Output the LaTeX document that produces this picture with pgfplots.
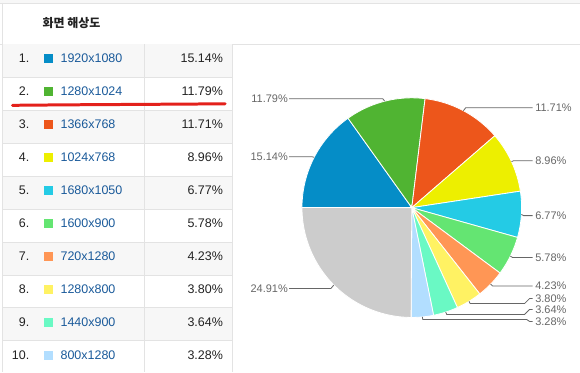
\documentclass[border=0pt]{standalone}
\usepackage{fontspec}
\setmainfont{Liberation Sans}
\newfontfamily\kr{Noto Sans CJK KR}
\usepackage{pgfplots}
\usepackage{pgfplotstable}
\pgfplotsset{compat=1.18}

\definecolor{c0}{HTML}{058DC7}
\definecolor{c1}{HTML}{50B432}
\definecolor{c2}{HTML}{ED561B}
\definecolor{c3}{HTML}{EDEF00}
\definecolor{c4}{HTML}{24CBE5}
\definecolor{c5}{HTML}{64E572}
\definecolor{c6}{HTML}{FF9655}
\definecolor{c7}{HTML}{FFF263}
\definecolor{c8}{HTML}{6AF9C4}
\definecolor{c9}{HTML}{B2DEFF}
\definecolor{c10}{HTML}{CCCCCC}
\definecolor{linkblue}{HTML}{1A5A9A}
\definecolor{rowgray}{HTML}{F7F7F7}
\definecolor{gridgray}{HTML}{E3E3E3}
\definecolor{labgray}{HTML}{666666}
\definecolor{txt}{HTML}{222222}
\definecolor{redmark}{HTML}{E3211B}

% screen resolutions and their share of sessions (%)
\pgfplotstableread{
idx label pct
0 1920x1080 15.14
1 1280x1024 11.79
2 1366x768 11.71
3 1024x768 8.96
4 1680x1050 6.77
5 1600x900 5.78
6 720x1280 4.23
7 1280x800 3.80
8 1440x900 3.64
9 800x1280 3.28
10 other 24.91
}\resdata

\newcommand\tabrow[4]{% index, label, pct, colour
  \addplot[#4, only marks, mark=square*, mark size=4pt, mark options={draw=#4, fill=#4, line width=0pt}]
    coordinates {(48,{44+33*(#1-1)+15})};
  \node[anchor=base east, txt, font=\fontsize{12.5}{14}\selectfont, inner sep=0pt] at (axis cs:29,{44+33*(#1-1)+19}) {#1.};
  \node[anchor=base west, linkblue, font=\fontsize{12.5}{14}\selectfont, inner sep=0pt] at (axis cs:60,{44+33*(#1-1)+19}) {#2};
  \node[anchor=base east, txt, font=\fontsize{12.5}{14}\selectfont, inner sep=0pt] at (axis cs:223,{44+33*(#1-1)+19}) {#3\%};
}

\begin{document}%
\begin{tikzpicture}
% cumulative angles of the slices, clockwise from 9 o'clock
\def\acc{180}
\pgfplotsforeachungrouped \i in {0,...,10}{%
  \pgfplotstablegetelem{\i}{pct}\of\resdata%
  \pgfmathsetmacro\endang{\acc-3.6*\pgfplotsretval}%
  \expandafter\xdef\csname sa\i\endcsname{\acc}%
  \expandafter\xdef\csname ea\i\endcsname{\endang}%
  \xdef\acc{\endang}%
}
\begin{axis}[
  x=1pt, y=1pt, y dir=reverse,
  xmin=0, xmax=580, ymin=0, ymax=373,
  enlargelimits=false, hide axis, clip=false,
]
% page frame
\addplot[fill=rowgray, draw=none] coordinates {(0,0) (580,0) (580,3) (0,3)} -- cycle;
\addplot[draw=gridgray, line width=1pt] coordinates {(0,3.5) (580,3.5)};
\addplot[draw=gridgray, line width=1pt] coordinates {(0,44.5) (580,44.5)};
% striped rows
\pgfplotsinvokeforeach{0,2,4,6,8}{
  \addplot[fill=rowgray, draw=none] coordinates {(3,{44+33*#1}) (232,{44+33*#1}) (232,{77+33*#1}) (3,{77+33*#1})} -- cycle;
}
\pgfplotsinvokeforeach{1,...,9}{
  \addplot[draw=gridgray, line width=1pt] coordinates {(3,{44.5+33*#1}) (232,{44.5+33*#1})};
}
\addplot[draw=gridgray, line width=1pt] coordinates {(2.5,3) (2.5,373)};
\addplot[draw=gridgray, line width=1pt] coordinates {(144.5,44) (144.5,373)};
\addplot[draw=gridgray, line width=1pt] coordinates {(232,44) (232,373)};
\node[anchor=west, inner sep=0pt, font=\kr\bfseries\fontsize{12}{14}\selectfont, txt] at (axis cs:42,23) {화면 해상도};

\tabrow{1}{1920x1080}{15.14}{c0}
\tabrow{2}{1280x1024}{11.79}{c1}
\tabrow{3}{1366x768}{11.71}{c2}
\tabrow{4}{1024x768}{8.96}{c3}
\tabrow{5}{1680x1050}{6.77}{c4}
\tabrow{6}{1600x900}{5.78}{c5}
\tabrow{7}{720x1280}{4.23}{c6}
\tabrow{8}{1280x800}{3.80}{c7}
\tabrow{9}{1440x900}{3.64}{c8}
\tabrow{10}{800x1280}{3.28}{c9}

% hand-drawn red underline
\addplot[redmark, line width=3pt, line cap=round, smooth] coordinates {(12,105.5) (70,105) (150,104.5) (225,104)};

% pie slices
\pgfplotsinvokeforeach{0,...,10}{
  \edef\tmp{\noexpand\addplot[fill=c#1, draw=white, line width=0.8pt, domain=\csname ea#1\endcsname:\csname sa#1\endcsname, samples=60]
    ({412+110*cos(x)},{208-110*sin(x)}) -- (axis cs:412,208) -- cycle;}
  \tmp
}

% leader lines
\addplot[labgray, line width=0.8pt] coordinates {(314.2,157.6) (312,157) (289,157)};
\addplot[labgray, line width=0.8pt] coordinates {(384.9,101.4) (383,99) (289,99)};
\addplot[labgray, line width=0.8pt] coordinates {(333.9,285.5) (331,289) (289,289)};
\addplot[labgray, line width=0.8pt] coordinates {(463.7,110.9) (466,108) (533,108)};
\addplot[labgray, line width=0.8pt] coordinates {(511.9,161.9) (514,161) (533,161)};
\addplot[labgray, line width=0.8pt] coordinates {(521.8,214.8) (524,216) (533,216)};
\addplot[labgray, line width=0.8pt] coordinates {(510.7,256.5) (513,258) (533,258)};
\addplot[labgray, line width=0.8pt] coordinates {(490.9,284.6) (493,286.5) (533,286.5)};
\addplot[labgray, line width=0.8pt] coordinates {(469.3,301.9) (470.5,304) (525,304) (530,299) (533,299)};
\addplot[labgray, line width=0.8pt] coordinates {(446,312.6) (447,315) (525,315) (530,310) (533,310)};
\addplot[labgray, line width=0.8pt] coordinates {(422.6,317.5) (423,320) (527,320) (530,322) (533,322)};

% pie labels
\begin{scope}[every node/.style={labgray, font=\fontsize{11}{13}\selectfont, inner sep=0pt}]
\node[anchor=east] at (axis cs:288,99) {11.79\%};
\node[anchor=east] at (axis cs:288,157) {15.14\%};
\node[anchor=east] at (axis cs:288,289) {24.91\%};
\node[anchor=west] at (axis cs:535.5,108) {11.71\%};
\node[anchor=west] at (axis cs:535.5,161) {8.96\%};
\node[anchor=west] at (axis cs:535.5,216) {6.77\%};
\node[anchor=west] at (axis cs:535.5,258) {5.78\%};
\node[anchor=west] at (axis cs:535.5,286.5) {4.23\%};
\node[anchor=west] at (axis cs:535.5,299) {3.80\%};
\node[anchor=west] at (axis cs:535.5,310) {3.64\%};
\node[anchor=west] at (axis cs:535.5,322) {3.28\%};
\end{scope}
\end{axis}
\end{tikzpicture}%
\end{document}
